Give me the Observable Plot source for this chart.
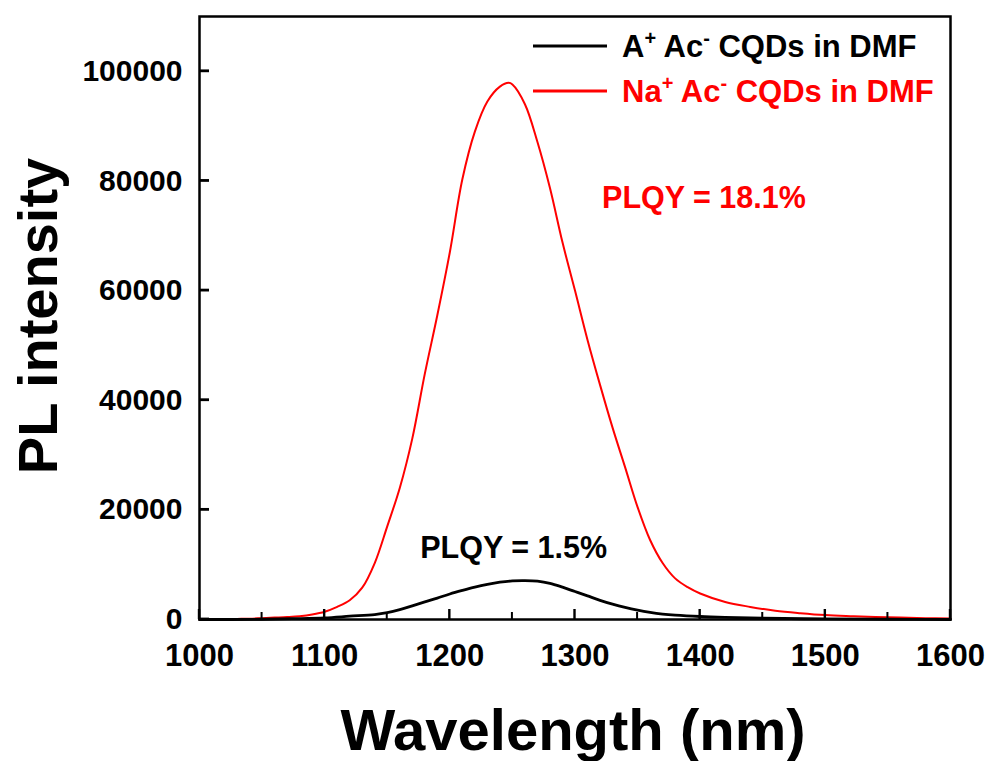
<!DOCTYPE html>
<html>
<head>
<meta charset="utf-8">
<script src="https://cdn.jsdelivr.net/npm/d3@7"></script>
<script src="https://cdn.jsdelivr.net/npm/@observablehq/plot@0.6"></script>
<style>
  html, body { margin: 0; padding: 0; background: #fff; }
  #chart svg { display: block; }
</style>
</head>
<body>
<div id="chart"></div>
<script>
// ---- data ----
const wavelengthsRed = [1000,1010,1020,1030,1040,1050,1060,1070,1080,1090,1100,1110,1120,1130,1140,1150,1160,1170,1180,1190,1200,1210,1220,1230,1240,1247,1250,1260,1270,1280,1290,1300,1310,1320,1330,1340,1350,1360,1370,1380,1390,1400,1420,1440,1460,1480,1500,1520,1540,1560,1580,1600];
const intensityRed  = [0,0,50,100,150,250,350,450,600,900,1400,2300,3500,5800,10300,17000,24000,33000,44800,55500,67000,80300,89000,94500,97200,97900,97600,94000,87100,78700,68800,60000,51000,42800,35000,27800,20500,14500,10300,7500,5900,4750,3200,2300,1600,1150,800,600,450,350,250,200];

const wavelengthsBlack = [1000,1025,1050,1075,1100,1120,1140,1150,1160,1170,1180,1190,1200,1210,1220,1230,1240,1250,1260,1270,1280,1290,1300,1310,1320,1330,1340,1350,1360,1370,1380,1400,1420,1450,1500,1550,1600];
const intensityBlack  = [0,0,50,150,300,600,900,1250,1800,2500,3200,3900,4650,5300,5900,6400,6800,7050,7100,7000,6600,5900,5100,4300,3500,2800,2200,1700,1300,1000,800,550,400,250,100,50,0];

const seriesColors = ["#000000", "#ff0000"];

const xTicks = [1000,1100,1200,1300,1400,1500,1600];
const xMinorTicks = [1050,1150,1250,1350,1450,1550];
const yTicks = [0,20000,40000,60000,80000,100000];

const annotations = [
  {label: "PLQY = 18.1%", wavelength: 1403, intensity: 76800, color: "#ff0000"},
  {label: "PLQY = 1.5%",  wavelength: 1251, intensity: 12950, color: "#000000"}
];

const red = wavelengthsRed.map((w, i) => ({w, v: intensityRed[i]}));
const black = wavelengthsBlack.map((w, i) => ({w, v: intensityBlack[i]}));

const FONT = "'Liberation Sans', Arial, Helvetica, sans-serif";
const W = 987, H = 761, ML = 199, MR = 37, MT = 16, MB = 142;
const xDomain = [1000, 1600], yDomain = [0, 110000];

const chart = Plot.plot({
  width: W,
  height: H,
  marginLeft: ML,
  marginRight: MR,
  marginTop: MT,
  marginBottom: MB,
  style: {fontFamily: FONT, background: "#fff", color: "#000"},
  x: {domain: xDomain},
  y: {domain: yDomain},
  marks: [
    Plot.line(red, {x: "w", y: "v", stroke: seriesColors[1], strokeWidth: 2, curve: "catmull-rom"}),
    Plot.line(black, {x: "w", y: "v", stroke: seriesColors[0], strokeWidth: 2.8, curve: "catmull-rom"}),
    Plot.axisX({ticks: xTicks, tickSize: 0, tickPadding: 24, tickFormat: d => String(d), label: null,
      fontSize: 31, fontWeight: "bold"}),
    Plot.axisY({ticks: yTicks, tickSize: 0, tickPadding: 17, tickFormat: d => String(d), label: null,
      fontSize: 30, fontWeight: "bold"}),
    Plot.frame({stroke: "#000", strokeWidth: 2.5}),
    Plot.text(annotations, {x: "wavelength", y: "intensity", text: "label", fill: "color",
      fontSize: 30.5, fontWeight: "bold", textAnchor: "middle"})
  ]
});

document.getElementById("chart").appendChild(chart);

const svg = d3.select(chart);
const sx = chart.scale("x"), sy = chart.scale("y");
const y0 = sy.apply(yDomain[0]), x0 = sx.apply(xDomain[0]);

// ---- inward tick marks, positioned through Plot's scales ----
const tg = svg.append("g").attr("stroke", "#000").attr("fill", "none");
xMinorTicks.forEach(v => {
  const px = sx.apply(v);
  tg.append("line").attr("x1", px).attr("x2", px).attr("y1", y0).attr("y2", y0 - 7).attr("stroke-width", 2);
});
xTicks.forEach(v => {
  const px = sx.apply(v);
  tg.append("line").attr("x1", px).attr("x2", px).attr("y1", y0).attr("y2", y0 - 10).attr("stroke-width", 2.4);
});
yTicks.forEach(v => {
  const py = sy.apply(v);
  tg.append("line").attr("x1", x0).attr("x2", x0 + 10).attr("y1", py).attr("y2", py).attr("stroke-width", 2.8);
});

// ---- axis titles and legend ----
svg.append("text")
  .attr("transform", "translate(57,316) rotate(-90)")
  .attr("text-anchor", "middle")
  .attr("font-family", FONT)
  .attr("font-weight", "bold")
  .attr("font-size", 56)
  .attr("fill", "#000")
  .text("PL intensity");

svg.append("text")
  .attr("x", 573)
  .attr("y", 750)
  .attr("text-anchor", "middle")
  .attr("font-family", FONT)
  .attr("font-weight", "bold")
  .attr("font-size", 58)
  .attr("fill", "#000")
  .text("Wavelength (nm)");

const legendItems = [
  {parts: [["A", 0], ["+", 1], [" Ac", 0], ["-", 1], [" CQDs in DMF", 0]], color: seriesColors[0], y: 46, w: 2.8},
  {parts: [["Na", 0], ["+", 1], [" Ac", 0], ["-", 1], [" CQDs in DMF", 0]], color: seriesColors[1], y: 91, w: 2.8}
];
legendItems.forEach(item => {
  svg.append("line")
    .attr("x1", 533).attr("x2", 607)
    .attr("y1", item.y).attr("y2", item.y)
    .attr("stroke", item.color).attr("stroke-width", item.w);
  const t = svg.append("text")
    .attr("x", 622).attr("y", item.y + 11)
    .attr("text-anchor", "start")
    .attr("font-family", FONT)
    .attr("font-weight", "bold")
    .attr("font-size", 31)
    .attr("fill", item.color);
  let shifted = false;
  item.parts.forEach(([s, sup]) => {
    const ts = t.append("tspan").text(s);
    if (sup) {
      ts.attr("font-size", 20).attr("dy", -12);
      shifted = true;
    } else if (shifted) {
      ts.attr("dy", 12);
      shifted = false;
    }
  });
});
</script>
</body>
</html>
